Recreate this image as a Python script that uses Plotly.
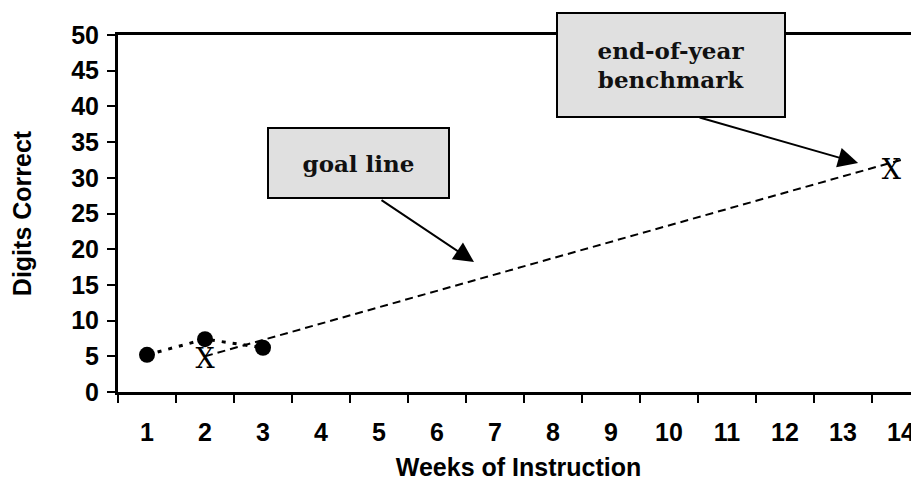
import plotly.graph_objects as go

# ---- data ----
weeks = list(range(1, 15))
week_labels = [str(w) for w in weeks]
student_weeks = [1, 2, 3]
student_scores = [5.2, 7.4, 6.2]
goal_weeks = [2, 14]
goal_scores = [5, 32.5]
marker_weeks = [2, 14]
marker_scores = [4.3, 30.8]
marker_text = ["X", "X"]

fig = go.Figure()

# goal line (dashed)
fig.add_trace(go.Scatter(
    x=goal_weeks, y=goal_scores, mode="lines",
    line=dict(color="black", width=2, dash="8px,5px"),
    hoverinfo="skip", showlegend=False))

# student data (dotted line + circles)
fig.add_trace(go.Scatter(
    x=student_weeks, y=student_scores, mode="lines",
    line=dict(color="black", width=3, dash="4px,7px"),
    hoverinfo="skip", showlegend=False))

# X markers (baseline / benchmark)
fig.add_trace(go.Scatter(
    x=marker_weeks, y=marker_scores, mode="text", text=marker_text,
    textposition=["middle center", "middle left"],
    textfont=dict(family="DejaVu Serif", size=27, color="black"),
    hoverinfo="skip", showlegend=False))

fig.add_trace(go.Scatter(
    x=student_weeks, y=student_scores, mode="markers",
    marker=dict(color="black", size=16, symbol="circle"),
    hoverinfo="skip", showlegend=False))

box_font = dict(family="DejaVu Serif", size=23, color="#111111", weight="bold")

annotations = [
    # goal line box
    dict(x=4.647, y=32.06, xref="x", yref="y", text="goal line",
         showarrow=False, font=box_font, bgcolor="#e0e0e0",
         bordercolor="black", borderwidth=2, borderpad=0,
         width=179, height=68, xanchor="center", yanchor="middle"),
    # arrow for goal line
    dict(x=6.638, y=18.2, xref="x", yref="y", text="",
         showarrow=True, arrowhead=2, arrowsize=2, arrowwidth=2,
         arrowcolor="black", ax=-94, ay=-63),
    # benchmark box
    dict(x=10.03, y=45.8, xref="x", yref="y",
         text="end-of-year<br>benchmark",
         showarrow=False, font=box_font, bgcolor="#e0e0e0",
         bordercolor="black", borderwidth=2, borderpad=0,
         width=226, height=102, xanchor="center", yanchor="middle"),
    # arrow for benchmark
    dict(x=13.26, y=32.06, xref="x", yref="y", text="",
         showarrow=True, arrowhead=2, arrowsize=2, arrowwidth=2,
         arrowcolor="black", ax=-160, ay=-46),
]

axis_font = dict(family="Liberation Sans", size=25, color="black", weight="bold")
title_font = dict(family="Liberation Sans", size=25, color="black", weight="bold")

fig.update_layout(
    width=911, height=473,
    margin=dict(l=110, r=0, t=27, b=89, autoexpand=False),
    paper_bgcolor="white", plot_bgcolor="white",
    showlegend=False,
    annotations=annotations,
    xaxis=dict(
        range=[0.5, 14.31], automargin=False,
        tickmode="array", tickvals=weeks, ticktext=week_labels,
        ticks="", showgrid=False, zeroline=False,
        showline=True, linecolor="black", linewidth=3, mirror=True,
        tickfont=axis_font, ticklabelstandoff=16,
        minor=dict(tickmode="linear", tick0=0.5, dtick=1, ticks="outside",
                   ticklen=8, tickwidth=2, tickcolor="black", showgrid=False),
        title=dict(text="Weeks of Instruction", font=title_font, standoff=22),
    ),
    yaxis=dict(
        range=[0, 50], tickmode="linear", tick0=0, dtick=5, automargin=False,
        ticks="outside", ticklen=8, tickwidth=2, tickcolor="black",
        showgrid=False, zeroline=False,
        showline=True, linecolor="black", linewidth=3, mirror=False,
        tickfont=axis_font, ticklabelstandoff=3,
        title=dict(text="Digits Correct", font=title_font, standoff=39),
    ),
)

fig.write_html("out.html")
